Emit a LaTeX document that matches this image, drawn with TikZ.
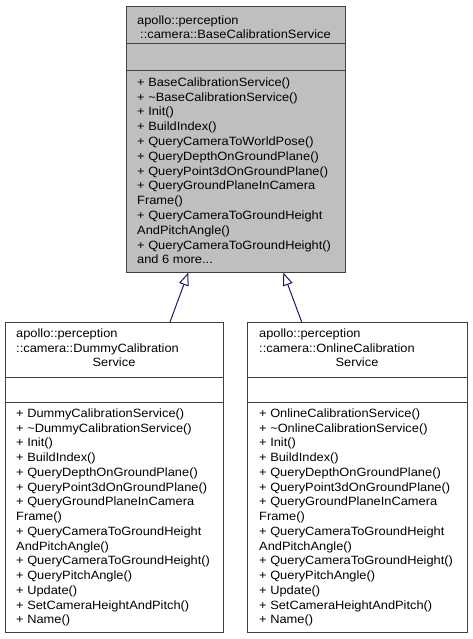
\documentclass[tikz,border=0pt]{standalone}
\usepackage{fontspec}
\setmainfont{Liberation Sans}[FakeStretch=1.07]
\usetikzlibrary{arrows.meta}
\definecolor{boxgray}{HTML}{BFBFBF}
\definecolor{edgegray}{HTML}{404040}
\definecolor{arrowblue}{HTML}{191970}
\begin{document}
\begin{tikzpicture}[x=1pt,y=-1pt,
  classbox/.style={draw=edgegray,line width=1pt,rectangle,inner sep=0pt,anchor=north west},
  sepline/.style={draw=edgegray,line width=1pt},
  txt/.style={anchor=base west,inner sep=0pt,font=\fontsize{12}{14}\selectfont},
  ctxt/.style={anchor=base,inner sep=0pt,font=\fontsize{12}{14}\selectfont},
  inherit/.style={draw=arrowblue,line width=1pt,-{Triangle[open,length=13pt,width=10pt]}}]
\useasboundingbox (0,0) rectangle (472,639);
% ---------- base class ----------
\node[classbox,fill=boxgray,minimum width=219pt,minimum height=266pt] (base) at (126,6) {};
\draw[sepline] (126,44) -- (345,44);
\draw[sepline] (126,71) -- (345,71);
\node[txt] (bt0) at (137,24.3) {apollo::perception};
\node[ctxt] (bt1) at (235.5,38.6) {::camera::BaseCalibrationService};
\foreach \t [count=\i from 0] in {{+ BaseCalibrationService()},{+ \textasciitilde BaseCalibrationService()},{+ Init()},{+ BuildIndex()},{+ QueryCameraToWorldPose()},{+ QueryDepthOnGroundPlane()},{+ QueryPoint3dOnGroundPlane()},{+ QueryGroundPlaneInCamera},{Frame()},{+ QueryCameraToGroundHeight},{AndPitchAngle()},{+ QueryCameraToGroundHeight()}}
  \node[txt] (bm\i) at (137,{86.3+\i*14.8}) {\t};
\node[txt] (bmore) at (137,{86.3+12*14.8}) {and 6 more...};
% ---------- dummy class ----------
\node[classbox,fill=white,minimum width=218pt,minimum height=310pt] (dummy) at (5,322) {};
\draw[sepline] (5,377) -- (223,377);
\draw[sepline] (5,402) -- (223,402);
\node[txt] (dt0) at (16,337.3) {apollo::perception};
\node[txt] (dt1) at (16,352) {::camera::DummyCalibration};
\node[ctxt] (dt2) at (114,366.7) {Service};
\foreach \t [count=\i from 0] in {{+ DummyCalibrationService()},{+ \textasciitilde DummyCalibrationService()},{+ Init()},{+ BuildIndex()},{+ QueryDepthOnGroundPlane()},{+ QueryPoint3dOnGroundPlane()},{+ QueryGroundPlaneInCamera},{Frame()},{+ QueryCameraToGroundHeight},{AndPitchAngle()},{+ QueryCameraToGroundHeight()},{+ QueryPitchAngle()},{+ Update()},{+ SetCameraHeightAndPitch()},{+ Name()}}
  \node[txt] (dm\i) at (16,{417.3+\i*14.75}) {\t};
% ---------- online class ----------
\node[classbox,fill=white,minimum width=220pt,minimum height=310pt] (online) at (247,322) {};
\draw[sepline] (247,377) -- (467,377);
\draw[sepline] (247,402) -- (467,402);
\node[txt] (ot0) at (259,337.3) {apollo::perception};
\node[txt] (ot1) at (259,352) {::camera::OnlineCalibration};
\node[ctxt] (ot2) at (357,366.7) {Service};
\foreach \t [count=\i from 0] in {{+ OnlineCalibrationService()},{+ \textasciitilde OnlineCalibrationService()},{+ Init()},{+ BuildIndex()},{+ QueryDepthOnGroundPlane()},{+ QueryPoint3dOnGroundPlane()},{+ QueryGroundPlaneInCamera},{Frame()},{+ QueryCameraToGroundHeight},{AndPitchAngle()},{+ QueryCameraToGroundHeight()},{+ QueryPitchAngle()},{+ Update()},{+ SetCameraHeightAndPitch()},{+ Name()}}
  \node[txt] (om\i) at (259,{417.3+\i*14.75}) {\t};
% ---------- inheritance arrows ----------
\coordinate (dstart) at (170,322);
\coordinate (dend) at (188.3,272.5);
\coordinate (ostart) at (301.7,322);
\coordinate (oend) at (283.3,272.5);
\draw[inherit] (dstart) -- (dend);
\draw[inherit] (ostart) -- (oend);
\end{tikzpicture}
\end{document}
